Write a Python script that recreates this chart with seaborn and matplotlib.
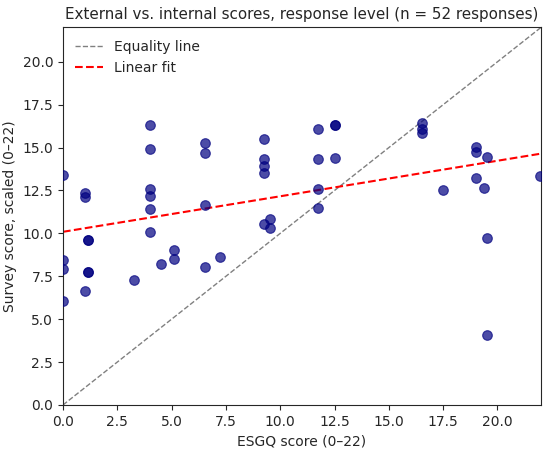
import numpy as np
import pandas as pd
import matplotlib
matplotlib.use('Agg')
import matplotlib.pyplot as plt
import seaborn as sns

sns.set_style("ticks")
plt.rcParams['font.family'] = ['DejaVu Sans']

# 응답별 점수 (ESGQ 외부 점수 vs. 설문 내부 점수, 0-22 척도)
esgq_score = [
    0.0, 0.0, 0.0, 0.0,
    1.03, 1.03, 1.13, 1.13, 1.13, 1.13, 1.03,
    3.27,
    4.0, 4.0, 4.0, 4.0, 4.0, 4.0,
    4.51, 5.12, 5.12,
    6.52, 6.52, 6.52, 6.52,
    7.25,
    9.25, 9.25, 9.25, 9.25, 9.25, 9.52, 9.52,
    11.76, 11.76, 11.76, 11.76,
    12.5, 12.5, 12.5,
    16.52, 16.52, 16.52,
    17.5,
    19.0, 19.0, 19.0,
    19.51, 19.36, 19.51, 19.51,
    21.97,
]
survey_score = [
    13.41, 8.45, 7.91, 6.05,
    12.35, 12.12, 9.59, 9.59, 7.77, 7.77, 6.63,
    7.31,
    16.34, 14.94, 12.56, 12.19, 11.42, 10.08,
    8.22, 9.03, 8.51,
    15.27, 14.69, 11.67, 8.02,
    8.63,
    15.52, 14.36, 13.94, 13.49, 10.55, 10.84, 10.29,
    16.10, 14.33, 12.60, 11.48,
    16.34, 16.34, 14.42,
    16.42, 16.10, 15.87,
    12.52,
    15.06, 14.77, 13.22,
    14.44, 12.67, 9.71, 4.07,
    13.35,
]

df = pd.DataFrame({'esgq': esgq_score, 'survey': survey_score})

fig = plt.figure(figsize=(5.5, 4.54), dpi=100)
ax = fig.add_axes([0.1145, 0.108, 0.869, 0.8315])

sns.scatterplot(data=df, x='esgq', y='survey', ax=ax, color='navy', alpha=0.7,
                s=48, edgecolor='navy', linewidth=0.8, zorder=3)

# 동일선 (y = x)
lims = [0, 22]
ax.plot(lims, lims, linestyle='--', color='gray', linewidth=1, label='Equality line')

# 선형 회귀선
slope, intercept = np.polyfit(df['esgq'], df['survey'], 1)
xs = np.array(lims)
ax.plot(xs, slope * xs + intercept, linestyle='--', color='red', linewidth=1.5, label='Linear fit')

ax.set_xlim(0, 22)
ax.set_ylim(0, 22)
ax.set_xticks(np.arange(0, 22, 2.5))
ax.set_yticks(np.arange(0, 22, 2.5))
ax.set_xlabel('ESGQ score (0–22)')
ax.set_ylabel('Survey score, scaled (0–22)')
ax.set_title('External vs. internal scores, response level (n = 52 responses)', fontsize=10.9)
ax.legend(loc='upper left', frameon=False)

fig.savefig('out.png', dpi=100)
